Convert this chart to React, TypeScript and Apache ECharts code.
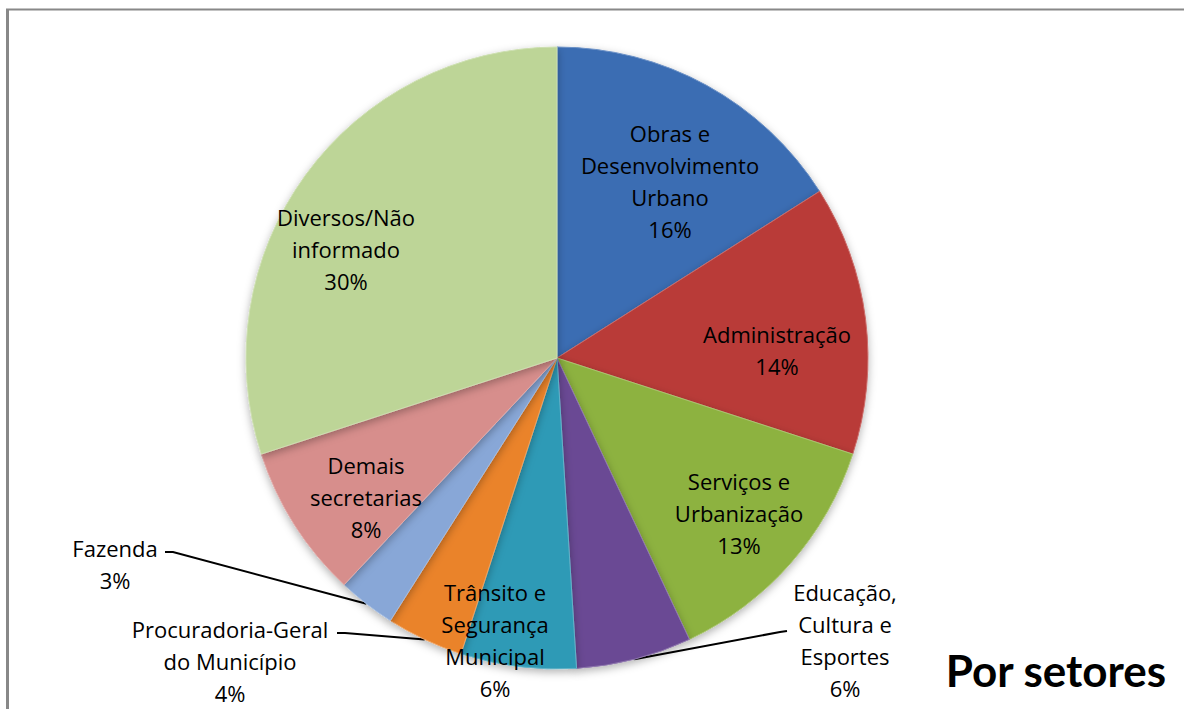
import React, { useEffect, useRef } from "react";
import * as echarts from "echarts";

const CATEGORIES = [
  "Obras e\nDesenvolvimento\nUrbano",
  "Administração",
  "Serviços e\nUrbanização",
  "Educação,\nCultura e\nEsportes",
  "Trânsito e\nSegurança\nMunicipal",
  "Procuradoria-Geral\ndo Município",
  "Fazenda",
  "Demais\nsecretarias",
  "Diversos/Não\ninformado",
];
const VALUES = [16, 14, 13, 6, 6, 4, 3, 8, 30];
const COLORS = [
  "#3B6DB3",
  "#B93B38",
  "#8DB240",
  "#6A4A94",
  "#2E9AB6",
  "#EA832B",
  "#88A7D7",
  "#D78E8C",
  "#BDD597",
];
const OUTSIDE = [false, false, false, true, false, true, true, false, false];

// layout (px, relative to pie centre)
const CX = 557;
const CY = 358;
const R = 311;
const LABEL_OFFSETS: number[][] = [
  [113, -177],
  [220, -8],
  [182, 155],
  [288, 282],
  [-62, 282],
  [-327, 303],
  [-442, 206],
  [-191, 139],
  [-211, -109],
];
const ELBOWS: (number[][] | null)[] = [
  null,
  null,
  null,
  [
    [223, 274],
    [230, 273],
  ],
  null,
  [
    [-212, 275],
    [-220, 275],
  ],
  [
    [-384, 194],
    [-392, 194],
  ],
  null,
  null,
];

export default function App() {
  const ref = useRef<HTMLDivElement>(null);
  useEffect(() => {
    if (!ref.current) return;
    const chart = echarts.init(ref.current, null, { renderer: "svg" });
    const data = CATEGORIES.map((name, i) => ({
      name,
      value: VALUES[i],
      itemStyle: {
        color: COLORS[i],
        borderColor: echarts.color.lift(COLORS[i], 0.25),
      },
      labelLine: { show: OUTSIDE[i] },
    }));
    chart.setOption({
      animation: false,
      backgroundColor: "#ffffff",
      title: {
        text: "Por setores",
        right: 12,
        bottom: 12,
        textStyle: {
          fontFamily: "Lato",
          fontWeight: "bold",
          fontSize: 44,
          color: "#000",
        },
      },
      graphic: [
        {
          type: "line",
          shape: { x1: 6, y1: 9.5, x2: 1184, y2: 9.5 },
          style: { stroke: "#888", lineWidth: 2 },
        },
        {
          type: "line",
          shape: { x1: 7.5, y1: 9, x2: 7.5, y2: 709 },
          style: { stroke: "#888", lineWidth: 3 },
        },
      ],
      series: [
        {
          type: "pie",
          center: [CX, CY],
          radius: [0, R],
          startAngle: 90,
          clockwise: true,
          avoidLabelOverlap: false,
          percentPrecision: 0,
          data,
          itemStyle: {
            borderWidth: 1,
            shadowBlur: 8,
            shadowColor: "rgba(0,0,0,0.3)",
            shadowOffsetY: 3,
          },
          label: {
            show: true,
            position: "outside",
            formatter: "{b}\n{d}%",
            fontFamily: "Open Sans",
            fontSize: 22,
            lineHeight: 32,
            color: "#000",
            align: "center",
          },
          labelLine: {
            show: true,
            length: 20,
            length2: 10,
            lineStyle: { color: "#000", width: 2 },
          },
          labelLayout: (params: any) => {
            const i = params.dataIndex;
            const off = LABEL_OFFSETS[i];
            const res: any = {
              x: CX + off[0],
              y: CY + off[1],
              align: "center",
              verticalAlign: "middle",
            };
            const el = ELBOWS[i];
            if (el && params.labelLinePoints) {
              const p0 = params.labelLinePoints[0];
              res.labelLinePoints = [
                [p0[0], p0[1]],
                [CX + el[0][0], CY + el[0][1]],
                [CX + el[1][0], CY + el[1][1]],
              ];
            }
            return res;
          },
        },
      ],
    });
    return () => chart.dispose();
  }, []);
  return (
    <div
      ref={ref}
      style={{
        position: "fixed",
        left: 0,
        top: 0,
        width: 1184,
        height: 709,
        background: "#fff",
      }}
    />
  );
}
